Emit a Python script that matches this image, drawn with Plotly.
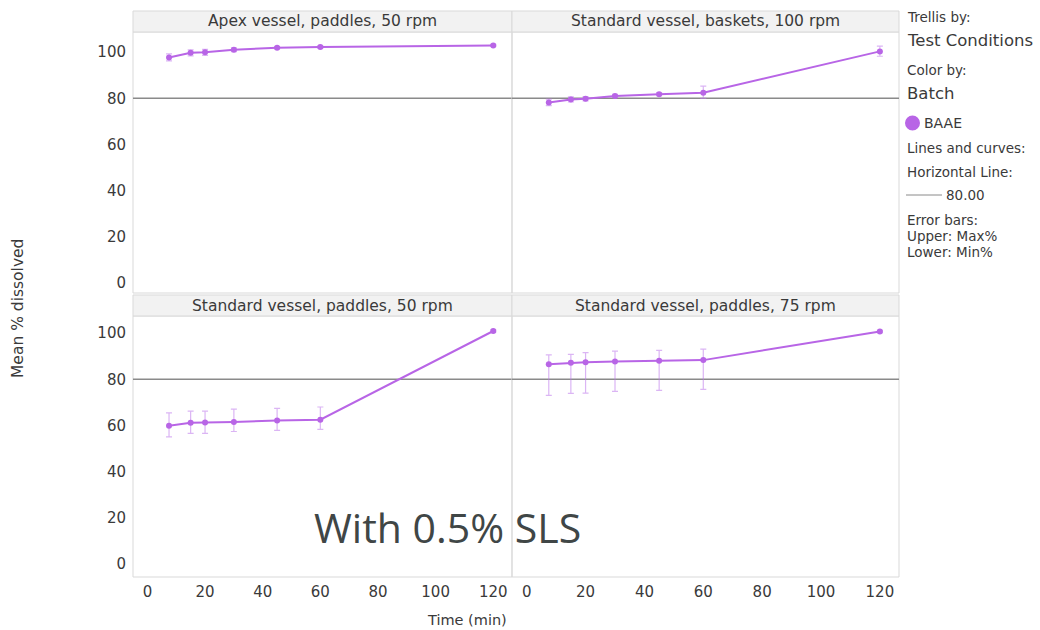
import plotly.graph_objects as go

# Dissolution profiles, batch BAAE, one panel per test condition
panels = [
    "Apex vessel, paddles, 50 rpm",
    "Standard vessel, baskets, 100 rpm",
    "Standard vessel, paddles, 50 rpm",
    "Standard vessel, paddles, 75 rpm",
]
time_min = [7.5, 15, 20, 30, 45, 60, 120]

mean_apex_p50 = [97.7, 99.7, 99.9, 101.0, 101.9, 102.2, 102.9]
max_apex_p50 = [99.2, 101.0, 101.2, 101.8, 102.4, 102.7, 103.3]
min_apex_p50 = [96.2, 98.4, 98.6, 100.2, 101.4, 101.7, 102.5]

mean_std_b100 = [78.2, 79.5, 79.8, 81.0, 81.8, 82.4, 100.3]
max_std_b100 = [79.6, 80.6, 80.7, 81.7, 82.5, 85.3, 102.6]
min_std_b100 = [76.8, 78.4, 78.9, 80.3, 81.1, 80.0, 98.2]

mean_std_p50 = [59.9, 61.2, 61.3, 61.5, 62.2, 62.5, 100.9]
max_std_p50 = [65.5, 66.2, 66.2, 67.1, 67.4, 68.0, 101.4]
min_std_p50 = [55.1, 56.6, 56.6, 57.4, 57.9, 58.3, 100.4]

mean_std_p75 = [86.5, 87.2, 87.4, 87.7, 88.0, 88.3, 100.7]
max_std_p75 = [90.6, 90.8, 91.5, 92.2, 92.5, 93.1, 101.2]
min_std_p75 = [73.0, 73.9, 74.0, 74.8, 75.2, 75.6, 100.2]

means = [mean_apex_p50, mean_std_b100, mean_std_p50, mean_std_p75]
maxs = [max_apex_p50, max_std_b100, max_std_p50, max_std_p75]
mins = [min_apex_p50, min_std_b100, min_std_p50, min_std_p75]

reference_level = 80.0
x_ticks = [0, 20, 40, 60, 80, 100, 120]
y_ticks = [0, 20, 40, 60, 80, 100]

PURPLE = "#b865e6"
ERR = "rgba(190,120,235,0.55)"
GRID = "#d9d9d9"
TXT = "#3a3a3a"
FONT = "DejaVu Sans, Verdana, sans-serif"

W, H = 1040, 630
def px(x):
    return x / W
def py(y):
    return 1 - y / H

col_x = [(133, 512), (512, 899)]
row_y = [(32, 293), (316, 577)]
strip_y = [(11, 32), (295, 316)]
y_ranges = [[-4.3, 108.7], [-5.6, 107.4]]

fig = go.Figure()
shapes = []
annotations = []

for i, name in enumerate(panels):
    r, c = divmod(i, 2)
    n = i + 1
    xa = "x" if n == 1 else f"x{n}"
    ya = "y" if n == 1 else f"y{n}"
    err_plus = [hi - m for hi, m in zip(maxs[i], means[i])]
    err_minus = [m - lo for lo, m in zip(mins[i], means[i])]
    fig.add_trace(go.Scatter(
        x=time_min, y=means[i], xaxis=xa, yaxis=ya,
        mode="lines+markers", name="BAAE", showlegend=False,
        line=dict(color=PURPLE, width=2),
        marker=dict(color=PURPLE, size=6),
        error_y=dict(type="data", symmetric=False, array=err_plus,
                     arrayminus=err_minus, color=ERR, thickness=1.2, width=3),
    ))
    x0, x1 = col_x[c]
    y0, y1 = row_y[r]
    xkey = "xaxis" if n == 1 else f"xaxis{n}"
    ykey = "yaxis" if n == 1 else f"yaxis{n}"
    fig.layout[xkey] = dict(
        domain=[px(x0), px(x1)], range=[-5, 126.5], anchor=ya,
        tickvals=x_ticks, showticklabels=(r == 1), showgrid=False,
        zeroline=False, showline=False, ticks="", ticklabelstandoff=4,
        tickfont=dict(family=FONT, size=15, color=TXT),
    )
    fig.layout[ykey] = dict(
        domain=[py(y1), py(y0)], range=y_ranges[r], anchor=xa,
        tickvals=y_ticks, showticklabels=(c == 0), showgrid=False,
        zeroline=False, showline=False, ticks="", ticklabelstandoff=6,
        tickfont=dict(family=FONT, size=15, color=TXT),
    )
    # panel frame
    shapes.append(dict(type="rect", xref="paper", yref="paper",
                       x0=px(x0), x1=px(x1), y0=py(y1), y1=py(y0),
                       line=dict(color=GRID, width=1), layer="below"))
    # reference line at 80 %
    shapes.append(dict(type="line", xref=f"{xa} domain", yref=ya,
                       x0=0, x1=1, y0=reference_level, y1=reference_level,
                       line=dict(color="#8a8a8a", width=1.5), layer="below"))
    # strip header
    s0, s1 = strip_y[r]
    shapes.append(dict(type="rect", xref="paper", yref="paper",
                       x0=px(x0), x1=px(x1), y0=py(s1), y1=py(s0),
                       fillcolor="#f2f2f2", line=dict(color=GRID, width=1)))
    annotations.append(dict(x=px((x0 + x1) / 2), y=py((s0 + s1) / 2),
                            xref="paper", yref="paper", text=name,
                            showarrow=False, xanchor="center", yanchor="middle",
                            font=dict(family=FONT, size=15.5, color=TXT)))

# axis titles
annotations.append(dict(x=px(467), y=py(620), xref="paper", yref="paper",
                        text="Time (min)", showarrow=False,
                        xanchor="center", yanchor="middle",
                        font=dict(family=FONT, size=14.5, color=TXT)))
annotations.append(dict(x=px(18), y=py(309), xref="paper", yref="paper",
                        text="Mean % dissolved", showarrow=False, textangle=-90,
                        xanchor="center", yanchor="middle",
                        font=dict(family=FONT, size=15.5, color=TXT)))

# note on the medium
annotations.append(dict(x=px(447), y=py(527), xref="paper", yref="paper",
                        text="With 0.5% SLS", showarrow=False,
                        xanchor="center", yanchor="middle",
                        font=dict(family="Open Sans, sans-serif", size=41, color="#404646")))

# side legend
legend_lines = [
    ("Trellis by:", 17, 13.5, 905),
    ("Test Conditions", 41, 16.5, 905),
    ("Color by:", 70, 13.5, 905),
    ("Batch", 93, 16.5, 905),
    ("BAAE", 123, 14, 922),
    ("Lines and curves:", 148, 13.5, 905),
    ("Horizontal Line:", 172, 13.5, 905),
    ("80.00", 195, 13.5, 944),
    ("Error bars:", 220, 13.5, 905),
    ("Upper: Max%", 236, 13.5, 905),
    ("Lower: Min%", 252, 13.5, 905),
]
for text, yy, size, xx in legend_lines:
    annotations.append(dict(x=px(xx), y=py(yy), xref="paper", yref="paper",
                            text=text, showarrow=False, xanchor="left",
                            yanchor="middle",
                            font=dict(family=FONT, size=size, color=TXT)))
shapes.append(dict(type="circle", xref="paper", yref="paper",
                   x0=px(905), x1=px(920), y0=py(130.5), y1=py(115.5),
                   fillcolor=PURPLE, line=dict(color=PURPLE, width=0)))
shapes.append(dict(type="line", xref="paper", yref="paper",
                   x0=px(906), x1=px(942), y0=py(195), y1=py(195),
                   line=dict(color="#8a8a8a", width=1)))

fig.update_layout(
    width=W, height=H, margin=dict(l=0, r=0, t=0, b=0),
    paper_bgcolor="white", plot_bgcolor="white",
    shapes=shapes, annotations=annotations, showlegend=False,
)

fig.write_html("out.html")
